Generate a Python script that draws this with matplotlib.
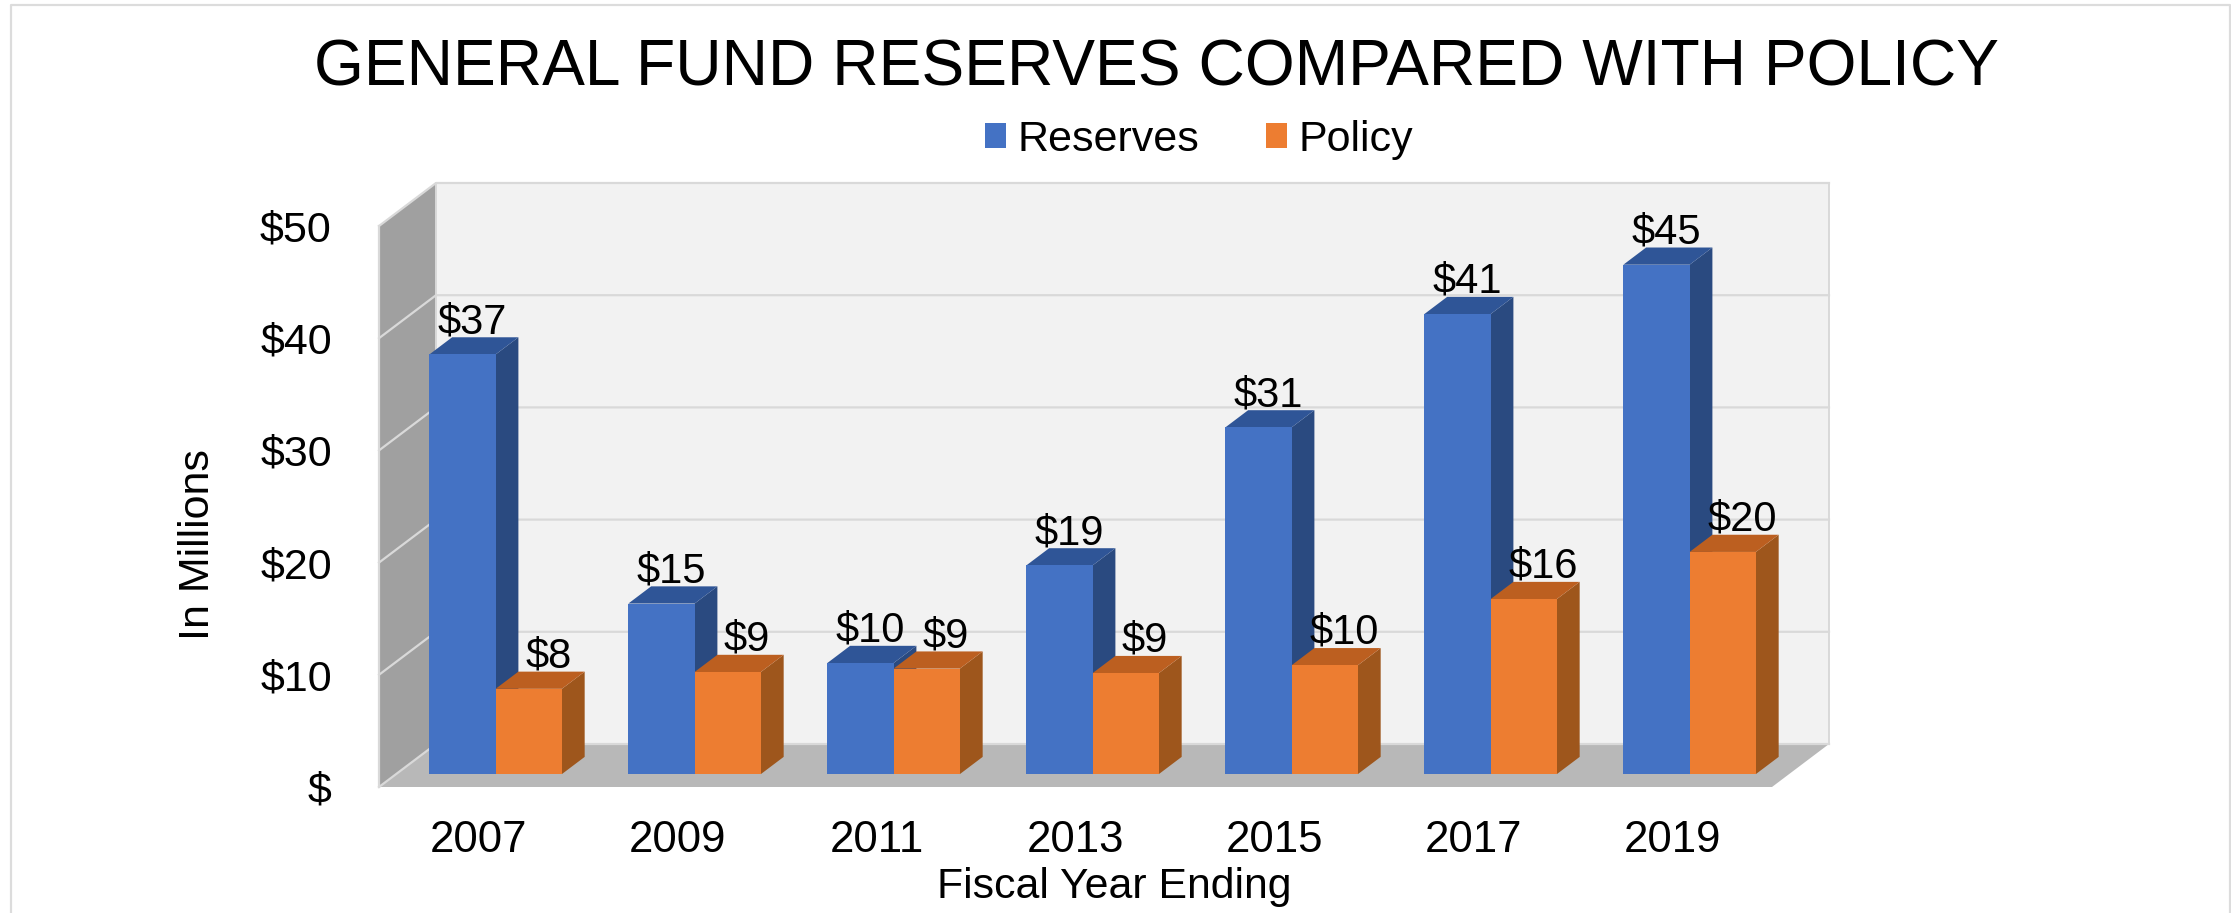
import matplotlib
matplotlib.use('Agg')
import matplotlib.pyplot as plt
from matplotlib.lines import Line2D
from matplotlib.patches import Patch
import numpy as np

plt.rcParams['font.family'] = ['Liberation Sans', 'DejaVu Sans']

years = ['2007', '2009', '2011', '2013', '2015', '2017', '2019']
reserves = [37.4, 15.2, 9.9, 18.6, 30.9, 41.0, 45.4]
policy = [7.6, 9.1, 9.4, 9.0, 9.7, 15.6, 19.8]
y_ticks = [0, 10, 20, 30, 40, 50]
y_tick_labels = ['$', '$10', '$20', '$30', '$40', '$50']

W, H = 2231, 913
fig = plt.figure(figsize=(W / 100, H / 100), dpi=100)
# front plane of the fake 3d box, in pixels of the reference
ax = fig.add_axes([379 / W, 1 - 787 / H, (1772 - 379) / W, (787 - 226) / H])
ax.set_xlim(-0.5, 6.5)
ax.set_ylim(0, 50)

# how far the box goes back, in data units
depth_x = 57 / (1393 / 7)
depth_y = 43 / (561 / 50)
bar_w = 0.333
bar_start = 0.3   # front of bars, as part of the depth
bar_depth = 0.4

grid_col = '#d9d9d9'
x0, x1 = -0.5, 6.5

# walls and floor
ax.fill([x0 + depth_x, x1 + depth_x, x1 + depth_x, x0 + depth_x],
        [depth_y, depth_y, 50 + depth_y, 50 + depth_y], color='#f2f2f2', lw=0, clip_on=False, zorder=1)
ax.fill([x0, x0, x0 + depth_x, x0 + depth_x], [0, 50, 50 + depth_y, depth_y],
        color='#a0a0a0', lw=0, clip_on=False, zorder=1)
ax.fill([x0, x1, x1 + depth_x, x0 + depth_x], [0, 0, depth_y, depth_y],
        color='#b8b8b8', lw=0, clip_on=False, zorder=1)

# gridlines go along the side wall and the back wall
for t in y_ticks:
    ax.plot([x0, x0 + depth_x, x1 + depth_x], [t, t + depth_y, t + depth_y],
            color=grid_col, lw=1.6, clip_on=False, zorder=2)
ax.plot([x1 + depth_x, x1 + depth_x], [depth_y, 50 + depth_y], color=grid_col, lw=1.4, clip_on=False, zorder=2)
ax.plot([x0 + depth_x, x0 + depth_x], [depth_y, 50 + depth_y], color=grid_col, lw=1.4, clip_on=False, zorder=2)
ax.plot([x0, x0], [0, 50], color=grid_col, lw=1.6, clip_on=False, zorder=2)


def draw_bars(x_left, values, front, top, side, text_dx, z):
    base = bar_start * depth_y
    off_x = bar_depth * depth_x
    off_y = bar_depth * depth_y
    ax.bar(x_left, values, width=bar_w, bottom=base, align='edge', color=front, lw=0, zorder=z + 1)
    for x, v in zip(x_left, values):
        h = v + base
        ax.fill([x + bar_w, x + bar_w + off_x, x + bar_w + off_x, x + bar_w],
                [base, base + off_y, h + off_y, h], color=side, lw=0, clip_on=False, zorder=z)
        ax.fill([x, x + bar_w, x + bar_w + off_x, x + off_x],
                [h, h, h + off_y, h + off_y], color=top, lw=0, clip_on=False, zorder=z)
        ax.annotate('$%d' % round(v), (x + bar_w / 2, h + off_y), xytext=(text_dx, 3),
                    textcoords='offset points', ha='center', va='baseline',
                    fontsize=30, color='black', zorder=10, annotation_clip=False)


pos = np.arange(len(years))
center = pos + bar_start * depth_x
draw_bars(center - bar_w, reserves, '#4472c4', '#2f5597', '#2a4a80', 7, 3)
draw_bars(center, policy, '#ed7d31', '#bc5f20', '#9e561c', 14, 5)

# axes text
for s in ax.spines.values():
    s.set_visible(False)
ax.patch.set_visible(False)
ax.set_xticks(pos)
ax.set_xticklabels(years, fontsize=31.5)
ax.set_yticks(y_ticks)
ax.set_yticklabels(y_tick_labels, fontsize=31)
ax.tick_params(axis='x', length=0, pad=24)
ax.tick_params(axis='y', length=0, pad=34)

fig.text(1156 / W, 1 - 68 / H, 'GENERAL FUND RESERVES COMPARED WITH POLICY',
         fontsize=46.2, ha='center', va='center')
fig.text(198 / W, 1 - 545 / H, 'In Millions', fontsize=31, rotation=90, ha='center', va='center')
fig.text(1114 / W, 1 - 887 / H, 'Fiscal Year Ending', fontsize=30.8, ha='center', va='center')

handles = [Patch(color='#4472c4', label='Reserves', lw=0), Patch(color='#ed7d31', label='Policy', lw=0)]
fig.legend(handles=handles, loc='center', bbox_to_anchor=(1199 / W, 1 - 140 / H), ncol=2, frameon=False,
           fontsize=31, handlelength=0.5, handleheight=0.5, handletextpad=0.26, columnspacing=1.55)

# thin frame around the chart, bottom is cut off in the picture
fig.add_artist(Line2D([11 / W, 11 / W, 2230 / W, 2230 / W], [0, 1 - 5 / H, 1 - 5 / H, 0],
                      color='#dcdcdc', lw=1.6))

fig.savefig('out.png', dpi=100)
